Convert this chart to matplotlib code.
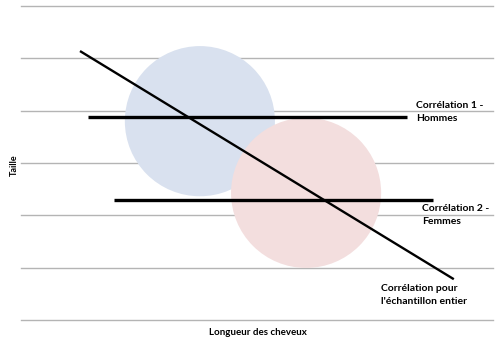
import matplotlib.pyplot as plt
from matplotlib.patches import Ellipse

# grid levels (horizontal gridlines)
grid_levels = [0, 1, 2, 3, 4, 5, 6]

# group clouds: centre x, centre y, radius (x units, y units)
cloud_names = ["Hommes", "Femmes"]
cloud_x = [3.79, 6.04]
cloud_y = [3.80, 2.43]
cloud_w = [3.18, 3.18]
cloud_h = [2.87, 2.87]
cloud_colors = ["#d9e1ef", "#f3dede"]

# regression lines: (x0, x1), (y0, y1)
line_x = [(1.42, 8.18), (1.97, 8.73), (1.25, 9.17)]
line_y = [(3.88, 3.88), (2.29, 2.29), (5.14, 0.78)]
line_w = [2.4, 2.4, 1.7]

# labels
label_text = ["Corrélation 1 -\nHommes",
              "Corrélation 2 -\nFemmes",
              "Corrélation pour\nl'échantillon entier"]
label_x = [8.37, 8.50, 7.63]
label_y = [3.97, 2.01, 0.48]

fig = plt.figure(figsize=(5.0, 3.42), dpi=100)
ax = fig.add_axes([0.042, 0.0643, 0.944, 0.918])
ax.set_xlim(0, 10)
ax.set_ylim(0, 6)

for g in grid_levels:
    ax.axhline(g, color="#b4b4b4", linewidth=1.0, zorder=0, clip_on=False)

for cx, cy, w, h, c in zip(cloud_x, cloud_y, cloud_w, cloud_h, cloud_colors):
    ax.add_patch(Ellipse((cx, cy), w, h, facecolor=c, edgecolor="none", zorder=1))

for xs, ys, lw in zip(line_x, line_y, line_w):
    ax.plot(xs, ys, color="black", linewidth=lw, solid_capstyle="butt", zorder=3)

for t, x, y in zip(label_text, label_x, label_y):
    ax.text(x, y, t, fontsize=7.5, fontweight="bold", family="Lato",
            ha="left", va="center", linespacing=1.55, zorder=4)

for s in ax.spines.values():
    s.set_visible(False)
ax.set_xticks([])
ax.set_yticks([])

fig.text(0.028, 0.517, "Taille", rotation=90, fontsize=6.5, fontweight="bold",
         family="Lato", ha="center", va="center")
fig.text(0.515, 0.028, "Longueur des cheveux", fontsize=7, fontweight="bold",
         family="Lato", ha="center", va="center")

fig.savefig("out.png", dpi=100)
